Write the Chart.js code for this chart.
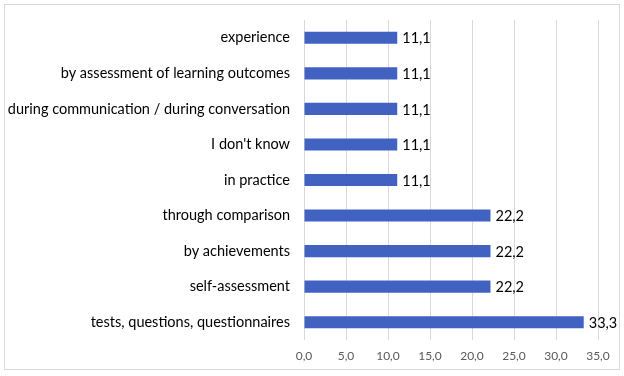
<!DOCTYPE html>
<html>
<head>
<meta charset="utf-8">
<script src="https://cdn.jsdelivr.net/npm/chart.js@4/dist/chart.umd.min.js"></script>
<style>
  html, body { margin: 0; padding: 0; background: #fff; }
  #wrap {
    position: absolute; left: 4px; top: 4px;
    width: 614px; height: 364px;
    border: 1px solid #d9d9d9;
  }
</style>
</head>
<body>
<div id="wrap"><canvas id="chart1" width="614" height="364"></canvas></div>
<script>
// categories top to bottom, as shown
const categories = [
    "experience",
    "by assessment of learning outcomes",
    "during communication / during conversation",
    "I don't know",
    "in practice",
    "through comparison",
    "by achievements",
    "self-assessment",
    "tests, questions, questionnaires"
];
const percents = [11.1, 11.1, 11.1, 11.1, 11.1, 22.2, 22.2, 22.2, 33.3];
const xTicks = [0, 5, 10, 15, 20, 25, 30, 35];

const FONT = "Lato, 'Open Sans', sans-serif";

function fmt(v) {
    return v.toFixed(1).replace(".", ",");
}

// value labels drawn after each bar end
const barLabels = {
    id: "barLabels",
    afterDatasetsDraw(chart) {
        const ctx = chart.ctx;
        const meta = chart.getDatasetMeta(0);
        ctx.save();
        ctx.font = "14.5px " + FONT;
        ctx.fillStyle = "#000";
        ctx.textBaseline = "middle";
        ctx.textAlign = "left";
        meta.data.forEach((bar, i) => {
            ctx.fillText(fmt(percents[i]), bar.x + 5, bar.y + 1);
        });
        ctx.restore();
    }
};

new Chart(document.getElementById("chart1"), {
    type: "bar",
    data: {
        labels: categories,
        datasets: [{
            data: percents,
            backgroundColor: "#4262c1",
            borderWidth: 0,
            barPercentage: 0.68,
            categoryPercentage: 0.5
        }]
    },
    options: {
        indexAxis: "y",
        responsive: false,
        animation: false,
        layout: { padding: { top: 15, right: 21, bottom: 0, left: 0 } },
        plugins: { legend: { display: false }, tooltip: { enabled: false } },
        scales: {
            x: {
                min: 0, max: 35,
                afterBuildTicks(scale) {
                    scale.ticks = xTicks.map(v => ({ value: v }));
                },
                afterFit(scale) { scale.height = 29; },
                grid: { color: "#d9d9d9", drawTicks: false },
                border: { display: false },
                ticks: {
                    color: "#595959",
                    font: { family: FONT, size: 12 },
                    padding: 9,
                    callback: v => fmt(v)
                }
            },
            y: {
                afterFit(scale) {
                    scale.width = 299;
                    // labels sit at category centres, no extra room needed
                    scale.paddingTop = 0;
                    scale.paddingBottom = 0;
                },
                grid: { display: false },
                border: { display: false },
                ticks: {
                    color: "#000",
                    font: { family: FONT, size: 14.5 },
                    padding: 6
                }
            }
        }
    },
    plugins: [barLabels]
});
</script>
</body>
</html>
